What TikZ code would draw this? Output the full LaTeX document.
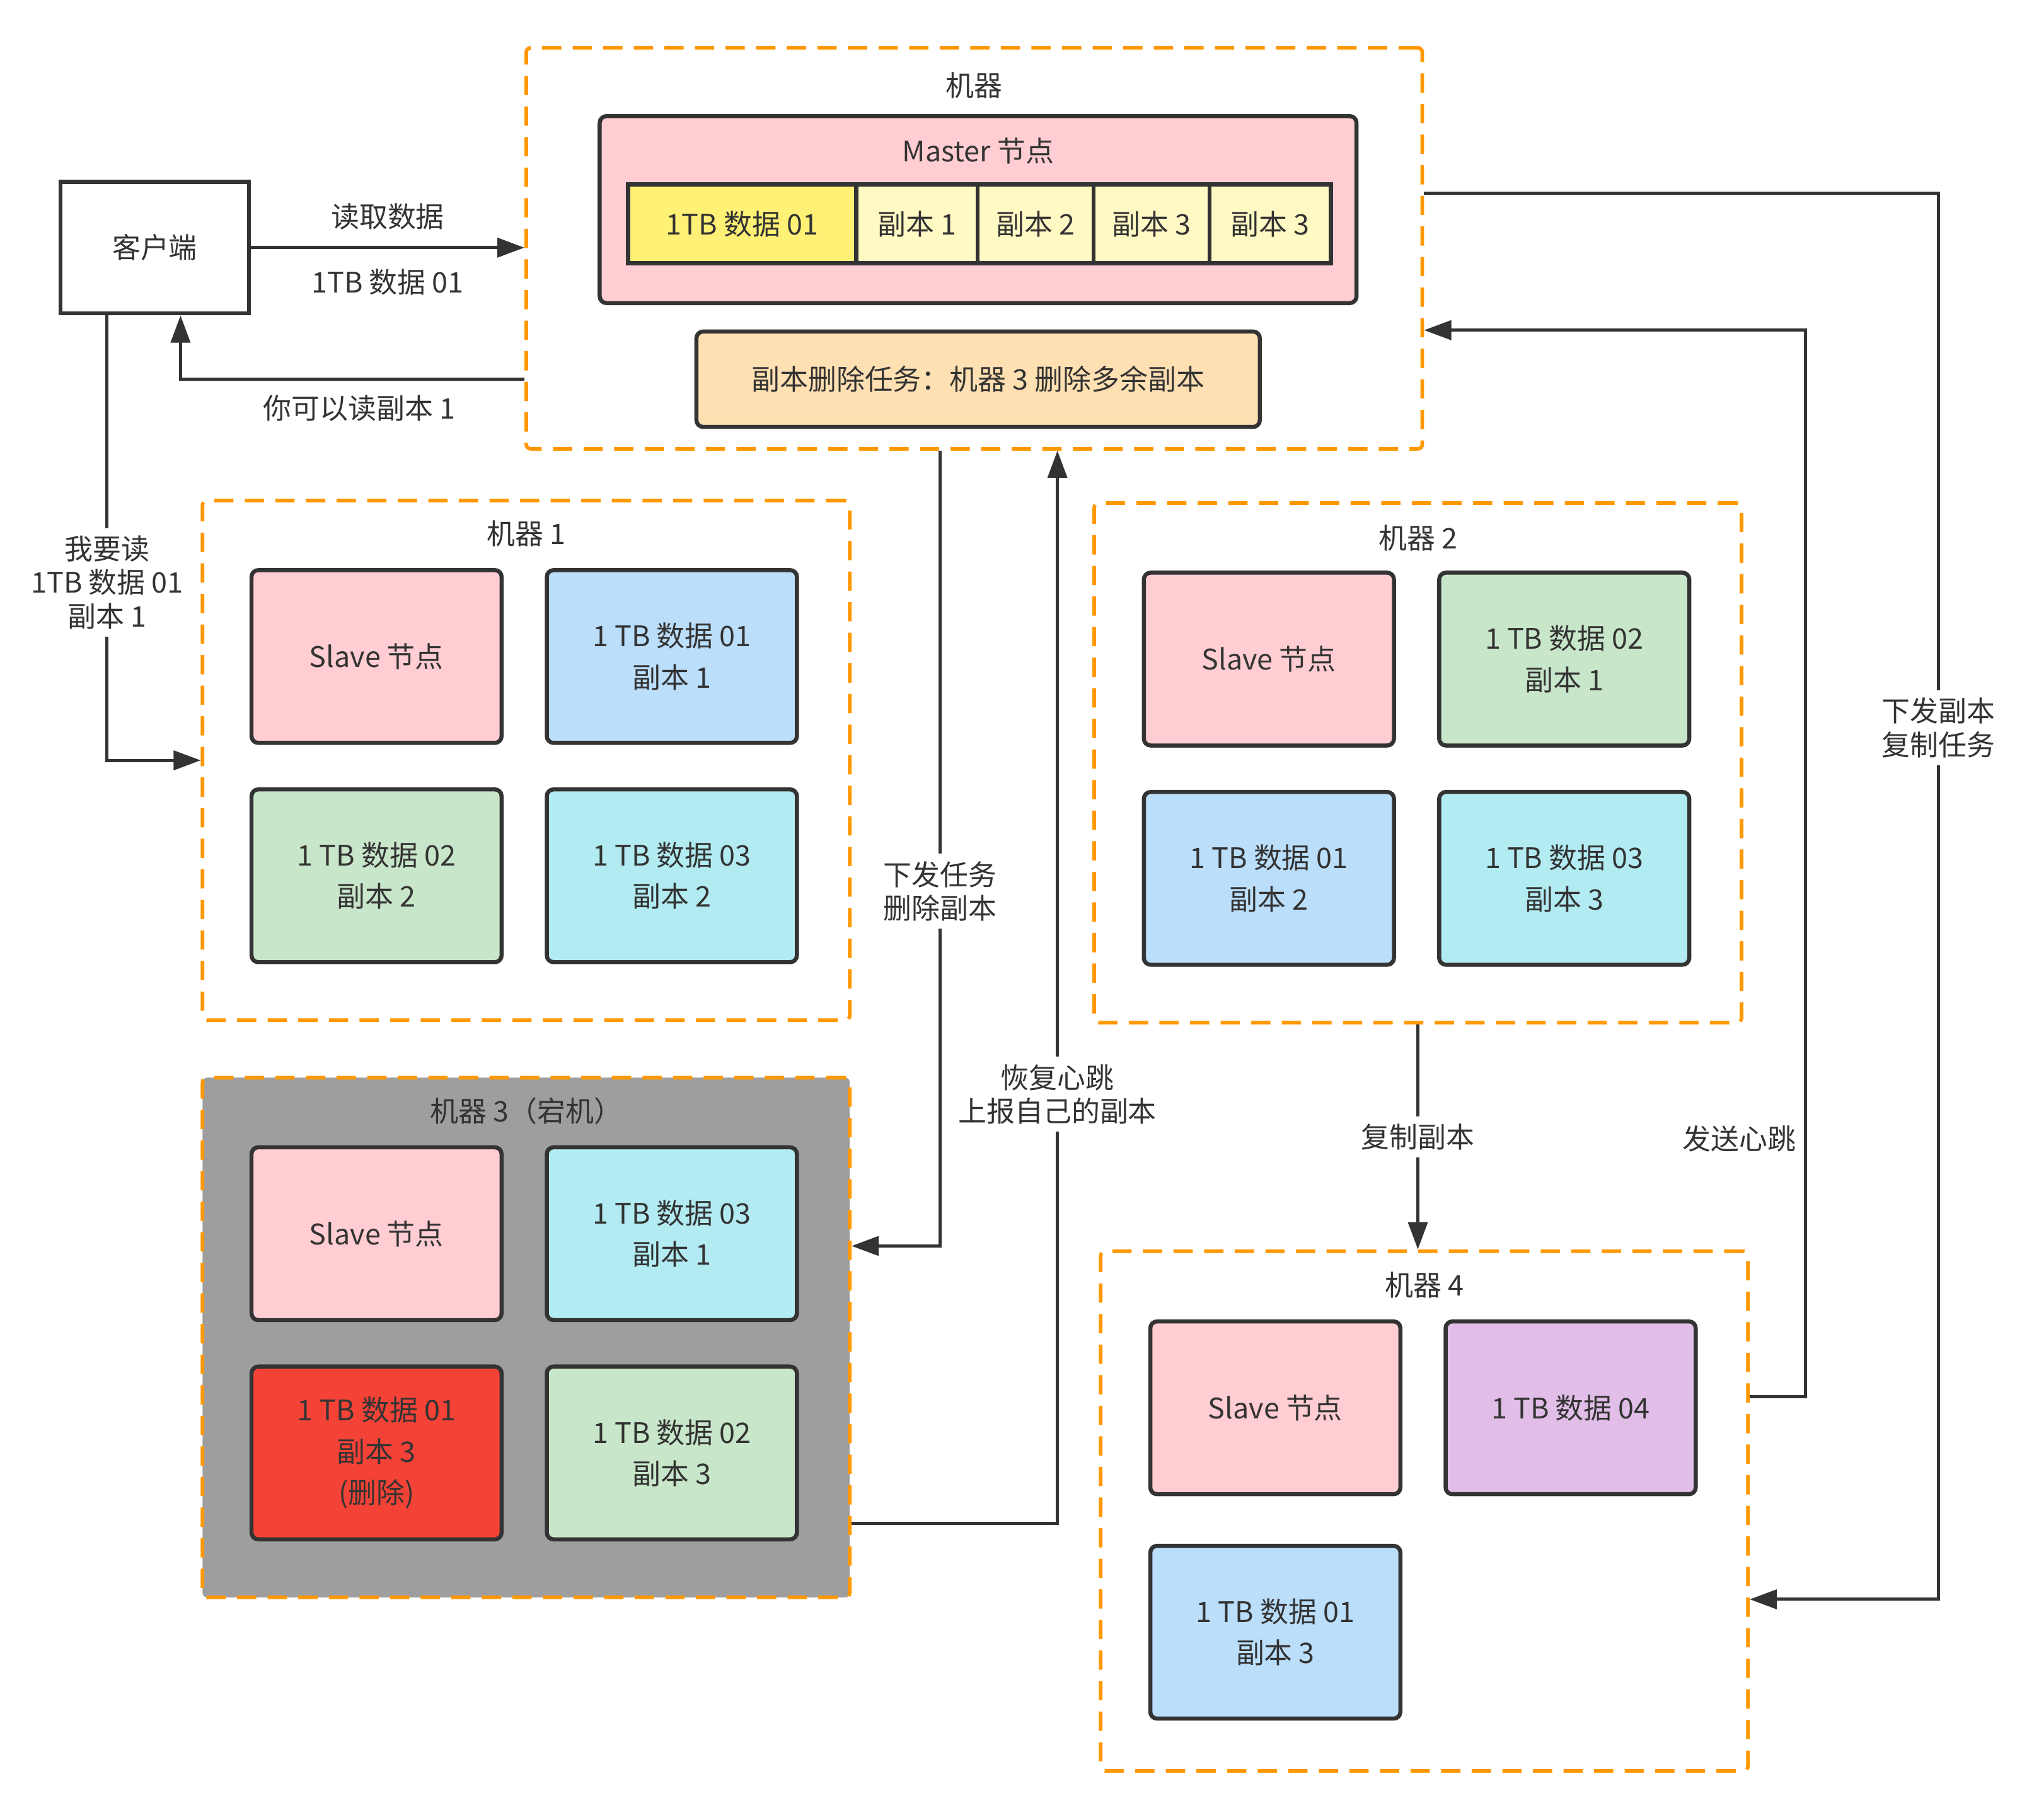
\documentclass[tikz,border=0pt]{standalone}
\usepackage{fontspec}
\setmainfont{Noto Sans CJK SC}
\usepackage{tikz}
\usetikzlibrary{positioning}
\usetikzlibrary{arrows.meta}
\definecolor{txt}{HTML}{333333}
\definecolor{dashorange}{HTML}{FF9800}
\definecolor{slavepink}{HTML}{FFCDD2}
\definecolor{datablue}{HTML}{BBDEFB}
\definecolor{datagreen}{HTML}{C8E6C9}
\definecolor{datacyan}{HTML}{B2EBF2}
\definecolor{datapurple}{HTML}{E1BEE7}
\definecolor{deadred}{HTML}{F44336}
\definecolor{deadgray}{HTML}{9E9E9E}
\definecolor{cellyellow}{HTML}{FFF176}
\definecolor{cellpale}{HTML}{FFF9C4}
\definecolor{taskorange}{HTML}{FFE0B2}
\tikzset{
	machine/.style={draw=dashorange, line width=1.6pt, dash pattern=on 8.5pt off 5pt, rounded corners=2pt, minimum width=10.04cm, minimum height=8.06cm},
	databox/.style={draw=txt, line width=1.8pt, rounded corners=3pt, minimum width=3.88cm, minimum height=2.68cm, align=center, font=\fontsize{12.5pt}{18.2pt}\selectfont},
	cell/.style={draw=txt, line width=1.8pt, minimum height=1.22cm, fill=cellpale},
	lbl/.style={align=center, fill=white},
	link/.style={draw=txt, line width=1.4pt, -{Triangle[length=12pt,width=8.5pt]}},
}

\begin{document}
\begin{tikzpicture}[x=0.02cm, y=-0.02cm, every node/.style={text=txt}, font=\fontsize{12.5pt}{14.8pt}\selectfont]
	\useasboundingbox (0,0) rectangle (1568,1411);
	\node (M0) at (755.5,192.5) [machine, minimum width=13.9cm, minimum height=6.22cm] {};
	\node [below=8pt of M0.north] {机器};
	\node (Master) at (758.5,162.5) [draw=txt, line width=1.8pt, rounded corners=3pt, fill=slavepink, minimum width=11.74cm, minimum height=2.9cm] {};
	\node [below=7pt of Master.north] {Master 节点};
	\node (Cell0) at (575.5,173.5) [cell, fill=cellyellow, minimum width=3.54cm] {1TB 数据 01};
	\node (Cell1) at (711,173.5) [cell, minimum width=1.88cm] {副本 1};
	\node (Cell2) at (803,173.5) [cell, minimum width=1.8cm] {副本 2};
	\node (Cell3) at (893,173.5) [cell, minimum width=1.8cm] {副本 3};
	\node (Cell4) at (985,173.5) [cell, minimum width=1.88cm] {副本 3};
	\node (Task) at (758.5,294) [draw=txt, line width=1.8pt, rounded corners=3pt, fill=taskorange, minimum width=8.74cm, minimum height=1.48cm] {副本删除任务：机器 3 删除多余副本};
	\node (Client) at (120,192) [draw=txt, line width=1.8pt, minimum width=2.92cm, minimum height=2.04cm] {客户端};

	\node (M1) at (408,589.5) [machine] {};
	\node [below=6pt of M1.north] {机器 1};
	\node (Slave1) at (292,509) [databox, fill=slavepink] {Slave 节点};
	\node (Data1A) at (521,509) [databox, fill=datablue] {1 TB 数据 01\\副本 1};
	\node (Data1B) at (292,679) [databox, fill=datagreen] {1 TB 数据 02\\副本 2};
	\node (Data1C) at (521,679) [databox, fill=datacyan] {1 TB 数据 03\\副本 2};

	\node (M2) at (1099.5,591.5) [machine] {};
	\node [below=7pt of M2.north] {机器 2};
	\node (Slave2) at (984,511) [databox, fill=slavepink] {Slave 节点};
	\node (Data2A) at (1213,511) [databox, fill=datagreen] {1 TB 数据 02\\副本 1};
	\node (Data2B) at (984,681) [databox, fill=datablue] {1 TB 数据 01\\副本 2};
	\node (Data2C) at (1213,681) [databox, fill=datacyan] {1 TB 数据 03\\副本 3};

	\node (M3) at (408,1037) [machine, fill=deadgray] {};
	\node [below=6pt of M3.north] {机器 3（宕机）};
	\node (Slave3) at (292,956.5) [databox, fill=slavepink] {Slave 节点};
	\node (Data3A) at (521,956.5) [databox, fill=datacyan] {1 TB 数据 03\\副本 1};
	\node (Data3B) at (292,1126.5) [databox, fill=deadred] {1 TB 数据 01\\副本 3\\(删除)};
	\node (Data3C) at (521,1126.5) [databox, fill=datagreen] {1 TB 数据 02\\副本 3};

	\node (M4) at (1104.5,1171.5) [machine] {};
	\node [below=6.5pt of M4.north] {机器 4};
	\node (Slave4) at (989,1091.5) [databox, fill=slavepink] {Slave 节点};
	\node (Data4A) at (1218,1091.5) [databox, fill=datapurple] {1 TB 数据 04};
	\node (Data4B) at (989,1265.5) [databox, fill=datablue] {1 TB 数据 01\\副本 3};

	\draw[link] (Client) -- (Client -| M0.west) node[midway, above=4pt]{读取数据} node[midway, below=5.5pt]{1TB 数据 01};
	\draw[link] (M0.west |- Task) -| ([xshift=0.4cm]Client.south) node[pos=0.24, below=3pt]{你可以读副本 1};
	\draw[link] ([xshift=-0.74cm]Client.south) |- (M1.west) node[pos=0.3, lbl]{我要读\\1TB 数据 01\\副本 1};
	\draw[link] ([xshift=-0.53cm]M0.south) |- ([yshift=1.42cm]M3.east) node[pos=0.277, lbl]{下发任务\\删除副本};
	\draw[link] ([yshift=-2.88cm]M3.east) -| ([xshift=1.29cm]M0.south) node[pos=0.7, lbl]{恢复心跳\\上报自己的副本};
	\draw[link] (M2.south) -- (M2.south |- M4.north) node[midway, lbl]{复制副本};
	\draw[link] ([yshift=1.77cm]M4.east) -- ++(43,0) |- ([yshift=-1.27cm]M0.east) node[pos=0.121, anchor=east]{发送心跳};
	\draw[link] ([yshift=0.85cm]M0.east) -- ++(399,0) |- ([yshift=-1.37cm]M4.east) node[pos=0.19, lbl]{下发副本\\复制任务};
\end{tikzpicture}
\end{document}
